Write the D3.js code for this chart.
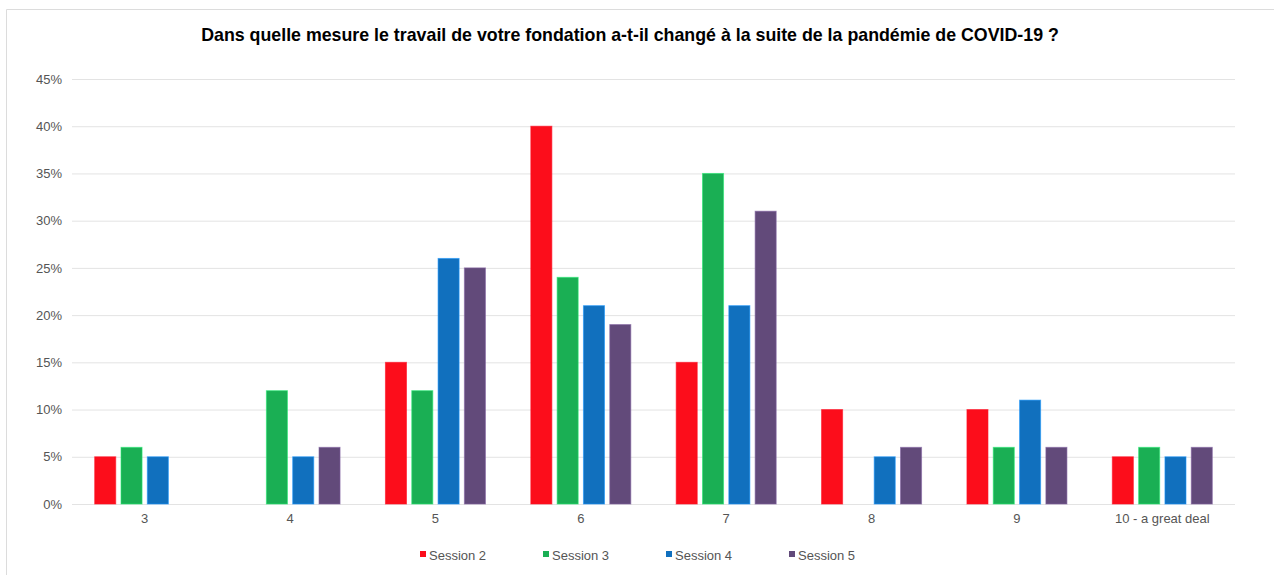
<!DOCTYPE html>
<html>
<head>
<meta charset="utf-8">
<script src="https://cdn.jsdelivr.net/npm/d3@7"></script>
<style>
  html, body { margin: 0; padding: 0; background: #fff; }
  svg { display: block; font-family: "Liberation Sans", Arial, Helvetica, sans-serif; }
</style>
</head>
<body>
<svg id="chart" width="1274" height="575"></svg>
<script>
// Survey answers per response level, one array per session (percent)
const categories = ["3", "4", "5", "6", "7", "8", "9", "10 - a great deal"];
const seriesNames = ["Session 2", "Session 3", "Session 4", "Session 5"];
const session2 = [5, null, 15, 40, 15, 10, 10, 5];
const session3 = [6, 12, 12, 24, 35, null, 6, 6];
const session4 = [5, 5, 26, 21, 21, 5, 11, 5];
const session5 = [null, 6, 25, 19, 31, 6, 6, 6];
const yTicks = [0, 5, 10, 15, 20, 25, 30, 35, 40, 45];
const colors = ["#fc0d1b", "#1aaf54", "#1170be", "#624a7a"];
const title = "Dans quelle mesure le travail de votre fondation a-t-il changé à la suite de la pandémie de COVID-19 ?";

const seriesValues = [session2, session3, session4, session5];

const svg = d3.select("#chart");
const W = 1274, H = 575;
const margin = { top: 79, right: 39, bottom: 71, left: 72 };
const innerW = W - margin.left - margin.right;
const innerH = H - margin.top - margin.bottom;

// Frame
svg.append("path")
  .attr("d", `M6.5,${H} V9.5 H${W}`)
  .attr("fill", "none")
  .attr("stroke", "#dcdcdc")
  .attr("stroke-width", 1);

// Title
svg.append("text")
  .attr("x", 630)
  .attr("y", 41)
  .attr("text-anchor", "middle")
  .attr("font-size", 17.8)
  .attr("font-weight", "bold")
  .attr("fill", "#000")
  .text(title);

const g = svg.append("g").attr("transform", `translate(${margin.left},${margin.top})`);

const x = d3.scaleBand().domain(categories).range([0, innerW]).paddingInner(0).paddingOuter(0);
const y = d3.scaleLinear().domain([0, 45]).range([innerH, 0]);

const groupW = 100;
const x1 = d3.scaleBand().domain(seriesNames).range([0, groupW]).paddingInner(0.2).paddingOuter(0);

// Gridlines and y labels
const yAxis = d3.axisLeft(y).tickValues(yTicks).tickFormat(d => d + "%").tickSize(-innerW).tickPadding(10);
const ya = g.append("g").call(yAxis);
ya.select(".domain").remove();
ya.selectAll(".tick line").attr("stroke", "#e3e3e3").attr("stroke-width", 1);
ya.selectAll(".tick text")
  .attr("fill", "#555")
  .attr("font-size", 13)
  .attr("font-family", "\"Liberation Sans\", Arial, sans-serif");

// Category labels
const xAxis = d3.axisBottom(x).tickSize(0).tickPadding(10);
const xa = g.append("g").attr("transform", `translate(0,${innerH})`).call(xAxis);
xa.select(".domain").remove();
xa.selectAll(".tick text")
  .attr("fill", "#555")
  .attr("font-size", 13)
  .attr("font-family", "\"Liberation Sans\", Arial, sans-serif");

// Bars
seriesNames.forEach((name, si) => {
  const data = categories.map((c, ci) => ({ c, v: seriesValues[si][ci] })).filter(d => d.v !== null);
  g.append("g")
    .selectAll("rect")
    .data(data)
    .join("rect")
    .attr("x", d => x(d.c) + (x.bandwidth() - groupW) / 2 + x1(name))
    .attr("y", d => y(d.v))
    .attr("width", x1.bandwidth())
    .attr("height", d => innerH - y(d.v))
    .attr("fill", colors[si])
    .attr("stroke", d3.color(colors[si]).brighter(0.8).formatHex())
    .attr("stroke-opacity", 0.6)
    .attr("stroke-width", 1);
});

// Legend
const legend = svg.append("g").attr("transform", "translate(420,555)");
seriesNames.forEach((name, i) => {
  const item = legend.append("g").attr("transform", `translate(${i * 123},0)`);
  item.append("rect")
    .attr("x", 0).attr("y", -4)
    .attr("width", 6).attr("height", 6)
    .attr("fill", colors[i]);
  item.append("text")
    .attr("x", 9).attr("y", 0)
    .attr("dy", "0.35em")
    .attr("font-size", 13)
    .attr("fill", "#555")
    .text(name);
});
</script>
</body>
</html>
